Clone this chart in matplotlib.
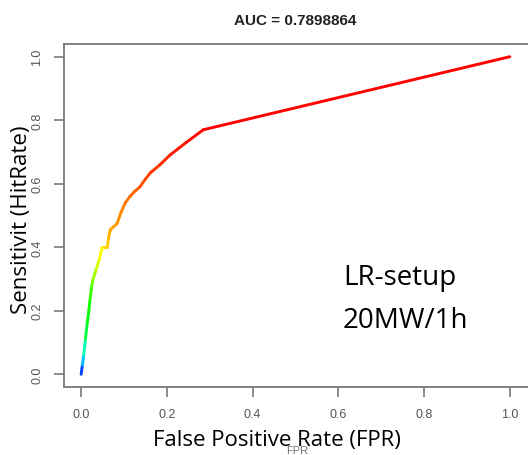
import numpy as np
import matplotlib
matplotlib.use("Agg")
import matplotlib.pyplot as plt
from matplotlib.collections import LineCollection
import colorsys

# ROC curve points
fpr = [0.000, 0.003, 0.006, 0.010, 0.014, 0.018, 0.021, 0.025, 0.028, 0.035,
       0.042, 0.049, 0.055, 0.061, 0.064, 0.068, 0.076, 0.084, 0.093, 0.103,
       0.114, 0.124, 0.137, 0.150, 0.162, 0.184, 0.207, 0.245, 0.285, 1.000]
tpr = [0.000, 0.030, 0.060, 0.110, 0.160, 0.200, 0.240, 0.280, 0.300, 0.330,
       0.360, 0.400, 0.400, 0.400, 0.430, 0.455, 0.465, 0.475, 0.510, 0.540,
       0.560, 0.575, 0.590, 0.615, 0.635, 0.660, 0.690, 0.730, 0.770, 1.000]
# normalised cutoff per point (1 = highest cutoff -> blue, 0 -> red)
cutoff = [1.00, 0.87, 0.75, 0.60, 0.525, 0.50, 0.465, 0.42, 0.375, 0.315,
          0.27, 0.24, 0.225, 0.21, 0.18, 0.165, 0.157, 0.15, 0.135, 0.12,
          0.105, 0.097, 0.09, 0.075, 0.06, 0.045, 0.03, 0.015, 0.005, 0.0]

title = "AUC = 0.7898864"
xticks = [0.0, 0.2, 0.4, 0.6, 0.8, 1.0]
yticks = [0.0, 0.2, 0.4, 0.6, 0.8, 1.0]
xlabel = "False Positive Rate (FPR)"
ylabel = "Sensitivit (HitRate)"
note1 = "LR-setup"
note2 = "20MW/1h"

fig = plt.figure(figsize=(5.30, 4.56), dpi=100)
ax = fig.add_axes([64/530, 1-388/456, (527-64)/530, (388-45)/456])
ax.set_xlim(-0.04, 1.04)
ax.set_ylim(-0.04, 1.04)

pts = np.column_stack([fpr, tpr])
segs = np.stack([pts[:-1], pts[1:]], axis=1)
cvals = [(cutoff[i] + cutoff[i+1]) / 2 for i in range(len(cutoff)-1)]
cols = [colorsys.hsv_to_rgb(c * 4/6, 1, 1) for c in cvals]
lc = LineCollection(segs, colors=cols, linewidths=2.1, capstyle='round', joinstyle='round')
ax.add_collection(lc)

for s in ax.spines.values():
    s.set_color('#777777')
    s.set_linewidth(1.3)
ax.spines['right'].set_visible(False)

tickfont = dict(family=['Liberation Sans', 'DejaVu Sans'], size=9, color='#555555')
ax.set_xticks(xticks)
ax.set_xticklabels([f"{t:.1f}" for t in xticks], **tickfont)
ax.set_yticks(yticks)
ax.set_yticklabels([f"{t:.1f}" for t in yticks], rotation=90, va='center', **tickfont)
ax.tick_params(axis='both', direction='out', length=7, width=1.2, color='#777777', pad=8)

fig.text(295/530, 1-21/456, title, ha='center', va='center', fontsize=11,
         fontweight='bold', family=['Liberation Sans Narrow', 'Liberation Sans', 'DejaVu Sans'],
         color='#222222')

# underlying small R label, mostly hidden under the large label
fig.text(297/530, 1-451/456, "FPR", ha='center', va='center', fontsize=8,
         color='#777777', family=['Liberation Sans', 'DejaVu Sans'])

big = dict(family=['Open Sans', 'DejaVu Sans'], size=16, color='black')
fig.text(277/530, 1-441/456, xlabel, ha='center', va='center', **big)
fig.text(22/530, 1-220/456, ylabel, ha='center', va='center', rotation=90, **big)

note = dict(family=['Open Sans', 'DejaVu Sans'], size=20, color='black')
fig.text(343/530, 1-285/456, note1, ha='left', va='baseline', **note)
fig.text(343/530, 1-328/456, note2, ha='left', va='baseline', **note)

fig.savefig("out.png", dpi=100)
